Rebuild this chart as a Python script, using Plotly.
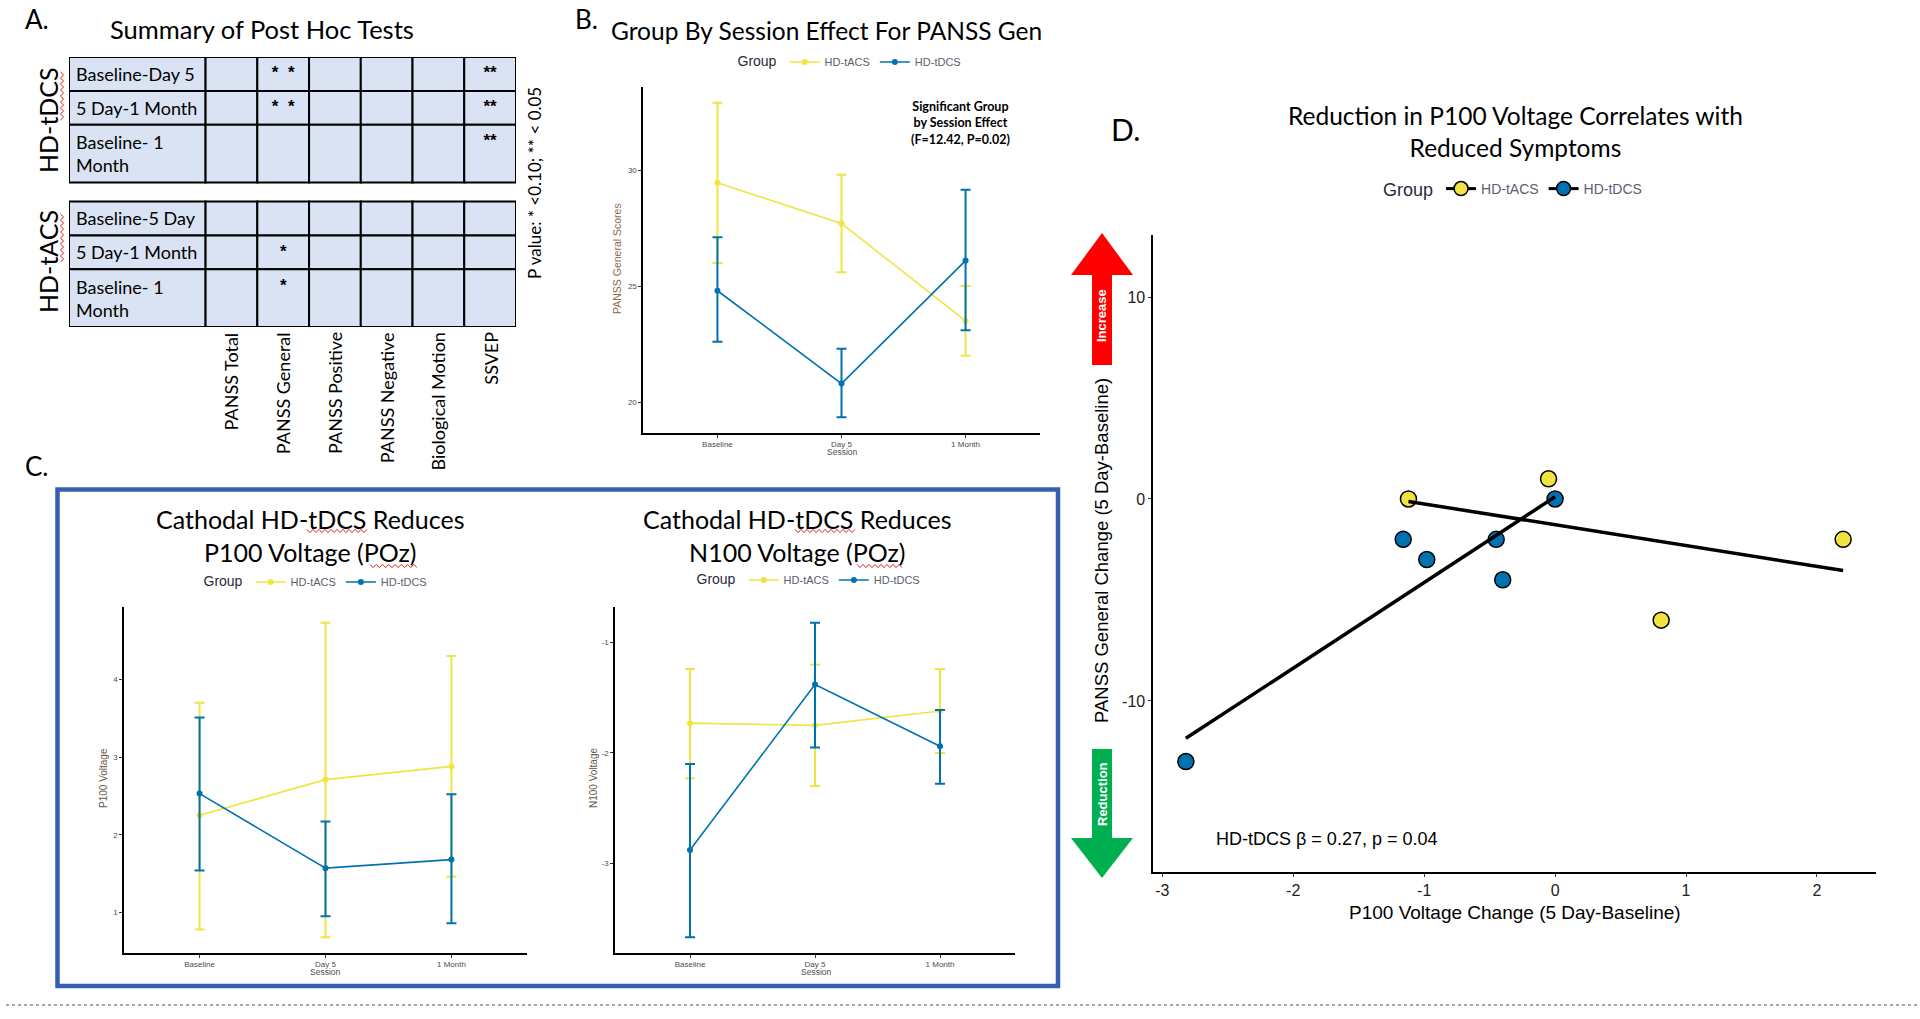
import numpy as np
import plotly.graph_objects as go

# ---------------- data ----------------
sessions = ["Baseline", "Day 5", "1 Month"]
group_names = ["HD-tACS", "HD-tDCS"]
group_colors = ["#F0E442", "#0072B2"]

# Panel B: PANSS General scores (mean, upper, lower of error bar)
panss_tacs_mean = [29.45, 27.70, 23.50]
panss_tacs_upper = [32.90, 29.80, 25.00]
panss_tacs_lower = [26.00, 25.60, 22.00]
panss_tdcs_mean = [24.80, 20.80, 26.10]
panss_tdcs_upper = [27.10, 22.30, 29.15]
panss_tdcs_lower = [22.60, 19.35, 23.10]

# Panel C left: P100 voltage
p100_tacs_mean = [2.25, 2.71, 2.88]
p100_tacs_upper = [3.70, 4.73, 4.30]
p100_tacs_lower = [0.78, 0.68, 1.46]
p100_tdcs_mean = [2.53, 1.57, 1.68]
p100_tdcs_upper = [3.51, 2.17, 2.52]
p100_tdcs_lower = [1.54, 0.95, 0.86]

# Panel C right: N100 voltage
n100_tacs_mean = [-1.73, -1.75, -1.62]
n100_tacs_upper = [-1.24, -1.20, -1.24]
n100_tacs_lower = [-2.23, -2.30, -2.00]
n100_tdcs_mean = [-2.88, -1.38, -1.94]
n100_tdcs_upper = [-2.10, -0.82, -1.61]
n100_tdcs_lower = [-3.67, -1.95, -2.28]

# Panel D: change scores
tacs_p100_change = [-1.12, -0.05, 0.81, 2.20]
tacs_panss_change = [0, 1, -6, -2]
tdcs_p100_change = [-2.82, -1.16, -0.98, -0.45, -0.40, 0.00]
tdcs_panss_change = [-13, -2, -3, -2, -4, 0]

# Panel A: post hoc summary table
measures = ["PANSS Total", "PANSS General", "PANSS Positive",
            "PANSS Negative", "Biological Motion", "SSVEP"]
row_labels_tdcs = ["Baseline-Day 5", "5 Day-1 Month", "Baseline- 1<br>Month"]
row_labels_tacs = ["Baseline-5 Day", "5 Day-1 Month", "Baseline- 1<br>Month"]
sig_tdcs = [["", "*\u00a0\u00a0*", "", "", "", "**"],
            ["", "*\u00a0\u00a0*", "", "", "", "**"],
            ["", "", "", "", "", "**"]]
sig_tacs = [["", "", "", "", "", ""],
            ["", "*", "", "", "", ""],
            ["", "*", "", "", "", ""]]

# ---------------- helpers ----------------
W, H = 1920, 1019
def px(x):
    return x / W
def py(y):
    return 1 - y / H

ARIAL = "Liberation Sans, Arial, sans-serif"
CAL = "Lato, Carlito, Calibri, sans-serif"
NARROW = "Liberation Sans Narrow, Arial Narrow, Liberation Sans, sans-serif"

def expand(lo, hi, f=0.05):
    d = (hi - lo) * f
    return [lo - d, hi + d]

fig = go.Figure()
annotations = []
shapes = []

def ann(text, x, y, size, family=CAL, color="black", xanchor="center",
        yanchor="middle", angle=0, xref="paper", yref="paper", bold=False, align="center"):
    annotations.append(dict(text=text, x=x, y=y, xref=xref, yref=yref,
                            showarrow=False, xanchor=xanchor, yanchor=yanchor,
                            textangle=angle, align=align,
                            font=dict(family=family, size=size, color=color,
                                      weight="bold" if bold else "normal")))

def squiggle(x0, y0, x1, y1, step=3.0, amp=1.6):
    """red spell-check wavy underline between two pixel points"""
    n = max(2, int(np.hypot(x1 - x0, y1 - y0) / step))
    dx, dy = (x1 - x0) / n, (y1 - y0) / n
    L = np.hypot(dx, dy)
    nx, ny = -dy / L, dx / L
    pts = []
    for i in range(n + 1):
        s = amp if i % 2 else -amp
        pts.append((x0 + dx * i + nx * s, y0 + dy * i + ny * s))
    path = "M " + " L ".join(f"{px(a):.5f},{py(b):.5f}" for a, b in pts)
    shapes.append(dict(type="path", xref="paper", yref="paper", path=path,
                       line=dict(color="#E02020", width=1)))

def session_panel(n, legend_id, series):
    xa = "x" if n == 1 else f"x{n}"
    ya = "y" if n == 1 else f"y{n}"
    for name, color, (m, u, l) in zip(group_names, group_colors, series):
        fig.add_trace(go.Scatter(
            x=sessions, y=m, mode="lines+markers", name=name, legend=legend_id,
            xaxis=xa, yaxis=ya, hoverinfo="skip", cliponaxis=False,
            line=dict(color=color, width=1.6),
            marker=dict(color=color, size=6, symbol="circle"),
            error_y=dict(type="data", symmetric=False,
                         array=[a - b for a, b in zip(u, m)],
                         arrayminus=[b - c for b, c in zip(m, l)],
                         color=color, thickness=2, width=5)))

def axis_common(tickfont_size=8, family=ARIAL, color="#4d4d4d"):
    return dict(showline=True, linecolor="black", linewidth=1.6, ticks="outside",
                ticklen=3, tickwidth=1, tickcolor="#333", showgrid=False,
                zeroline=False, fixedrange=True, automargin=False,
                tickfont=dict(family=family, size=tickfont_size, color=color))

layout_axes = {}

def session_axes(n, x0, x1, y0, y1, yr, tickvals):
    xk = "xaxis" if n == 1 else f"xaxis{n}"
    yk = "yaxis" if n == 1 else f"yaxis{n}"
    layout_axes[xk] = dict(domain=[px(x0), px(x1)], anchor="y" if n == 1 else f"y{n}",
                           type="category", range=[-0.6, 2.6], **axis_common())
    layout_axes[yk] = dict(domain=[py(y1), py(y0)], anchor="x" if n == 1 else f"x{n}",
                           range=yr, tickvals=tickvals,
                           ticktext=[f"{v:g}" for v in tickvals],
                           **axis_common())

# ---------------- Panel B ----------------
b_series = [(panss_tacs_mean, panss_tacs_upper, panss_tacs_lower),
            (panss_tdcs_mean, panss_tdcs_upper, panss_tdcs_lower)]
session_panel(1, "legend", b_series)
session_axes(1, 643, 1040, 87, 433,
             expand(min(panss_tacs_lower + panss_tdcs_lower),
                    max(panss_tacs_upper + panss_tdcs_upper)), [20, 25, 30])

# ---------------- Panel C ----------------
c1_series = [(p100_tacs_mean, p100_tacs_upper, p100_tacs_lower),
             (p100_tdcs_mean, p100_tdcs_upper, p100_tdcs_lower)]
session_panel(2, "legend2", c1_series)
session_axes(2, 124, 527, 607, 953,
             expand(min(p100_tacs_lower + p100_tdcs_lower),
                    max(p100_tacs_upper + p100_tdcs_upper)), [1, 2, 3, 4])

c2_series = [(n100_tacs_mean, n100_tacs_upper, n100_tacs_lower),
             (n100_tdcs_mean, n100_tdcs_upper, n100_tdcs_lower)]
session_panel(3, "legend3", c2_series)
session_axes(3, 615, 1015, 607, 953,
             expand(min(n100_tacs_lower + n100_tdcs_lower),
                    max(n100_tacs_upper + n100_tdcs_upper)), [-3, -2, -1])

# ---------------- Panel D ----------------
d_groups = [(tacs_p100_change, tacs_panss_change), (tdcs_p100_change, tdcs_panss_change)]
for name, color, (xs, ys) in zip(group_names, group_colors, d_groups):
    fig.add_trace(go.Scatter(x=xs, y=ys, mode="markers", name=name, showlegend=False,
                             xaxis="x4", yaxis="y4", hoverinfo="skip", cliponaxis=False,
                             marker=dict(color=color, size=16,
                                         line=dict(color="black", width=1.5))))
for name, color, (xs, ys) in zip(group_names, group_colors, d_groups):
    slope, intercept = np.polyfit(xs, ys, 1)
    xl = np.array([min(xs), max(xs)])
    fig.add_trace(go.Scatter(x=xl, y=slope * xl + intercept, mode="lines",
                             showlegend=False, xaxis="x4", yaxis="y4", hoverinfo="skip",
                             line=dict(color="black", width=3.5)))
for name, color in zip(group_names, group_colors):
    fig.add_trace(go.Scatter(x=[None], y=[None], mode="lines+markers", name=name,
                             legend="legend4", xaxis="x4", yaxis="y4",
                             line=dict(color="black", width=3),
                             marker=dict(color=color, size=14,
                                         line=dict(color="black", width=1.5))))

all_dx = tacs_p100_change + tdcs_p100_change
layout_axes["xaxis4"] = dict(domain=[px(1153), px(1876)], anchor="y4",
                             range=expand(min(all_dx), max(all_dx)),
                             tickvals=[-3, -2, -1, 0, 1, 2],
                             ticktext=["-3", "-2", "-1", "0", "1", "2"],
                             **axis_common(16, NARROW, "#222"))
layout_axes["yaxis4"] = dict(domain=[py(872), py(235)], anchor="x4",
                             range=[-18.47, 13.07], tickvals=[-10, 0, 10],
                             ticktext=["-10", "0", "10"],
                             **axis_common(16, NARROW, "#222"))

# ---------------- Panel A table ----------------
A_X0, A_X1, A_Y0, A_Y1 = 69, 516, 57, 327
label_w = 2.64
row_h = [1.0, 1.0, 1.7]
gap = 0.56
n_rows_units = 2 * sum(row_h) + gap
n_cols_units = label_w + len(measures)
cell_fill = "#DAE3F3"
star_x, star_y, star_t = [], [], []
top = 0.0
for labels, sig in [(row_labels_tdcs, sig_tdcs), (row_labels_tacs, sig_tacs)]:
    for r, lab in enumerate(labels):
        h = row_h[r]
        shapes.append(dict(type="rect", xref="x5", yref="y5", x0=-label_w, x1=0,
                           y0=top, y1=top + h, fillcolor=cell_fill,
                           line=dict(color="black", width=2), layer="below"))
        for c in range(len(measures)):
            shapes.append(dict(type="rect", xref="x5", yref="y5", x0=c, x1=c + 1,
                               y0=top, y1=top + h, fillcolor=cell_fill,
                               line=dict(color="black", width=2), layer="below"))
            if sig[r][c]:
                star_x.append(c + 0.5)
                star_y.append(top + 0.5)
                star_t.append(sig[r][c])
        ann(lab, -label_w + 0.1, top + h / 2, 18, xref="x5", yref="y5",
            xanchor="left", align="left")
        top += h
    top += gap

fig.add_trace(go.Scatter(x=star_x, y=star_y, text=star_t, mode="text",
                         textfont=dict(family=ARIAL, size=17, color="black", weight="bold"),
                         xaxis="x5", yaxis="y5", showlegend=False, hoverinfo="skip"))
layout_axes["xaxis5"] = dict(domain=[px(A_X0), px(A_X1)], anchor="y5",
                             range=[-label_w, len(measures)], visible=False, fixedrange=True)
layout_axes["yaxis5"] = dict(domain=[py(A_Y1), py(A_Y0)], anchor="x5",
                             range=[n_rows_units, 0], visible=False, fixedrange=True)
# column headers (rotated, below the table)
for c, m in enumerate(measures):
    xc = A_X0 + (label_w + c + 0.5) / n_cols_units * (A_X1 - A_X0)
    ann(m, px(xc), py(A_Y1 + 3), 18, yanchor="top", angle=-90)

ann("HD-tDCS", px(48), py(120), 25, angle=-90)
ann("HD-tACS", px(48), py(262), 25, angle=-90)
ann("P value: * &lt;0.10; ** &lt; 0.05", px(534), py(183), 17, angle=-90)
squiggle(62, 120, 62, 72)
squiggle(62, 262, 62, 214)

# ---------------- titles & labels ----------------
ann("A.", px(23), py(19), 26, xanchor="left")
ann("Summary of Post Hoc Tests", px(262), py(29), 25.5)
ann("B.", px(573), py(19), 26, xanchor="left")
ann("Group By Session Effect For PANSS Gen", px(826), py(30), 24.5)
ann("<b>Significant Group<br>by Session Effect<br>(F=12.42, P=0.02)</b>",
    px(960), py(123), 12.5)
ann("PANSS General Scores", px(617), py(259), 10.5, family=ARIAL, color="#8c6a52", angle=-90)
ann("Session", px(842), py(452), 8.5, family=ARIAL, color="#4d4d4d")

ann("C.", px(23), py(466), 26, xanchor="left")
ann("Cathodal HD-tDCS Reduces<br>P100 Voltage (POz)", px(310), py(535), 25)
ann("Cathodal HD-tDCS Reduces<br>N100 Voltage (POz)", px(797), py(535), 25)
ann("P100 Voltage", px(103), py(778), 10, family=ARIAL, color="#6b5848", angle=-90)
ann("N100 Voltage", px(593), py(778), 10, family=ARIAL, color="#6b5848", angle=-90)
ann("Session", px(325), py(972), 8.5, family=ARIAL, color="#4d4d4d")
ann("Session", px(816), py(972), 8.5, family=ARIAL, color="#4d4d4d")

ann("D.", px(1109), py(129), 30, xanchor="left")
ann("Reduction in P100 Voltage Correlates with<br>Reduced Symptoms", px(1515), py(131), 24.5)
ann("PANSS General Change (5 Day-Baseline)", px(1101), py(551), 18.5,
    family=ARIAL, angle=-90)
ann("P100 Voltage Change (5 Day-Baseline)", px(1515), py(912), 19, family=NARROW)
ann("HD-tDCS \u03b2 = 0.27, p = 0.04", px(1326), py(839), 18, family=NARROW)

# arrows in panel D
def arrow_path(pts):
    return "M " + " L ".join(f"{px(x):.5f},{py(y):.5f}" for x, y in pts) + " Z"

shapes.append(dict(type="path", xref="paper", yref="paper",
                   path=arrow_path([(1092, 365), (1092, 275), (1071, 275), (1102, 233),
                                    (1133, 275), (1112, 275), (1112, 365)]),
                   fillcolor="#FF0000", line=dict(width=0)))
shapes.append(dict(type="path", xref="paper", yref="paper",
                   path=arrow_path([(1092, 749), (1092, 838), (1071, 838), (1102, 878),
                                    (1133, 838), (1112, 838), (1112, 749)]),
                   fillcolor="#00B050", line=dict(width=0)))
ann("<b>Increase</b>", px(1102), py(316), 13, family=ARIAL, color="white", angle=-90)
ann("<b>Reduction</b>", px(1102), py(794), 13, family=ARIAL, color="white", angle=-90)

# spell-check squiggles in panel C titles
squiggle(307, 531, 367, 531)
squiggle(370, 566, 417, 566)
squiggle(795, 531, 855, 531)
squiggle(857, 566, 902, 566)

# panel C frame
shapes.append(dict(type="rect", xref="paper", yref="paper",
                   x0=px(57.5), x1=px(1058), y0=py(986), y1=py(489.5),
                   line=dict(color="#3660AE", width=4.5), fillcolor="rgba(0,0,0,0)"))
# dotted separator at bottom
shapes.append(dict(type="line", xref="paper", yref="paper",
                   x0=px(6), x1=px(1918), y0=py(1005), y1=py(1005),
                   line=dict(color="#8a8a8a", width=1.5, dash="dot")))

# ---------------- legends ----------------
def legend_cfg(x, y, title_size, item_size, family=ARIAL):
    return dict(orientation="h", x=px(x), y=py(y), xanchor="center", yanchor="middle",
                bgcolor="rgba(0,0,0,0)", borderwidth=0, itemwidth=30,
                font=dict(family=family, size=item_size, color="#5a6070"),
                title=dict(text="Group", side="left",
                           font=dict(family=family, size=title_size, color="#2a2a3a")))

fig.update_layout(
    width=W, height=H, margin=dict(l=0, r=0, t=0, b=0),
    paper_bgcolor="white", plot_bgcolor="white",
    annotations=annotations, shapes=shapes,
    legend=legend_cfg(851, 62, 14, 11),
    legend2=legend_cfg(317, 582, 14, 11),
    legend3=legend_cfg(810, 580, 14, 11),
    legend4=legend_cfg(1514, 190, 18, 14, NARROW),
    **layout_axes,
)

fig.write_html("out.html", config={"displayModeBar": False, "staticPlot": True},
               post_script="document.body.style.margin='0px';document.body.style.overflow='hidden';")
